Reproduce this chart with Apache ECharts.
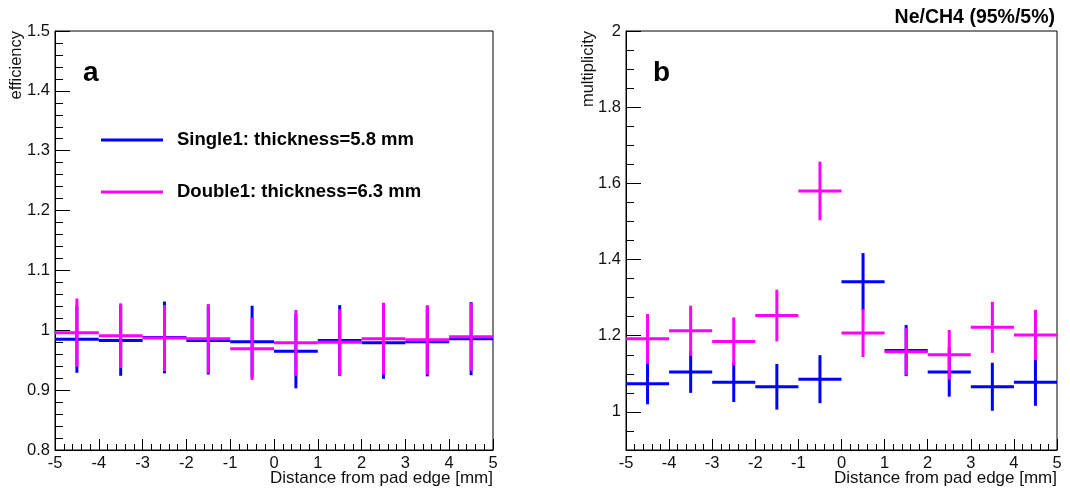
<!DOCTYPE html>
<html>
<head>
<meta charset="utf-8">
<script src="https://cdn.jsdelivr.net/npm/echarts@6/dist/echarts.min.js"></script>
<style>
html,body{margin:0;padding:0;background:#fff;}
#chart{width:1070px;height:493px;}
</style>
</head>
<body>
<div id="chart"></div>
<script>
// ---- data ----
const binCenters = [-4.5, -3.5, -2.5, -1.5, -0.5, 0.5, 1.5, 2.5, 3.5, 4.5];
const binHalfWidth = 0.5;
const effSingle    = [0.985, 0.983, 0.988, 0.983, 0.981, 0.965, 0.983, 0.979, 0.981, 0.986];
const effSingleErr = [0.056, 0.059, 0.060, 0.057, 0.060, 0.062, 0.059, 0.060, 0.058, 0.061];
const effDouble    = [0.996, 0.991, 0.987, 0.986, 0.969, 0.979, 0.980, 0.986, 0.984, 0.989];
const effDoubleErr = [0.057, 0.054, 0.055, 0.058, 0.052, 0.055, 0.055, 0.060, 0.058, 0.057];
const mulSingle    = [1.074, 1.105, 1.078, 1.066, 1.086, 1.342, 1.161, 1.105, 1.066, 1.078];
const mulSingleErr = [0.054, 0.055, 0.052, 0.060, 0.063, 0.075, 0.067, 0.065, 0.063, 0.062];
const mulDouble    = [1.192, 1.213, 1.185, 1.253, 1.580, 1.207, 1.158, 1.150, 1.222, 1.202];
const mulDoubleErr = [0.065, 0.066, 0.063, 0.068, 0.077, 0.063, 0.062, 0.065, 0.067, 0.066];
const seriesNames = ['Single1: thickness=5.8 mm', 'Double1: thickness=6.3 mm'];
const seriesColors = ['#0000ff', '#ff00ff'];
const mulMajorTicks = [1, 1.2, 1.4, 1.6, 1.8, 2];
const xTitle = 'Distance from pad edge [mm]';

// ---- build ----
const FONT = 'Liberation Sans, Arial, Helvetica, sans-serif';
function rows(vals, errs){ return binCenters.map((x,i)=>[x, vals[i], errs[i]]); }
const mulMinorTicks = [];
for (let v = 0.95; v < 2.0; v += 0.05) {
  const r = Math.round(v*100)/100;
  if (!mulMajorTicks.some(m => Math.abs(m - r) < 1e-6)) mulMinorTicks.push(r);
}
function renderItem(params, api){
  const x = api.value(0), y = api.value(1), e = api.value(2);
  const pL = api.coord([x - binHalfWidth, y]), pR = api.coord([x + binHalfWidth, y]);
  const pT = api.coord([x, y + e]), pB = api.coord([x, y - e]);
  const style = {stroke: api.visual('color'), lineWidth: 3};
  return {type:'group', children:[
    {type:'line', shape:{x1:pL[0], y1:pL[1], x2:pR[0], y2:pR[1]}, style: style},
    {type:'line', shape:{x1:pT[0], y1:pT[1], x2:pB[0], y2:pB[1]}, style: style}
  ]};
}
function errSeries(name, color, xi, yi, data){
  return {type:'custom', name:name, xAxisIndex:xi, yAxisIndex:yi, clip:true,
    itemStyle:{color:color}, renderItem:renderItem, encode:{x:0, y:1}, data:data};
}
const labelStyle = {fontFamily:FONT, fontSize:16.5, color:'#111'};
function xAxis(gi){
  return {type:'value', gridIndex:gi, min:-5, max:5, interval:1,
    axisLine:{onZero:false, lineStyle:{color:'#000', width:1}},
    axisTick:{inside:true, length:11, lineStyle:{color:'#000'}},
    minorTick:{show:true, splitNumber:5, length:6, lineStyle:{color:'#000'}},
    splitLine:{show:false},
    axisLabel:Object.assign({margin:5}, labelStyle)
  };
}
const fmt = v => String(+(+v).toFixed(2));
const xTitleStyle = {fontFamily:FONT, fontSize:17, fontWeight:'normal', color:'#111'};

const option = {
  animation:false,
  backgroundColor:'#fff',
  title:[
    {text:'a', left:78, top:54, textStyle:{fontFamily:FONT, fontSize:28, fontWeight:'bold', color:'#000'}},
    {text:'b', left:648, top:54, textStyle:{fontFamily:FONT, fontSize:28, fontWeight:'bold', color:'#000'}},
    {text:'Ne/CH4 (95%/5%)', right:10, top:3, textStyle:{fontFamily:FONT, fontSize:19.5, fontWeight:'bold', color:'#000'}},
    {text:xTitle, right:572, top:465, textStyle:xTitleStyle},
    {text:xTitle, right:8, top:465, textStyle:xTitleStyle}
  ],
  legend:{left:96, top:124, orient:'vertical', itemGap:30, itemWidth:62, itemHeight:3, icon:'rect',
    textStyle:{fontFamily:FONT, fontSize:18.5, fontWeight:'bold', color:'#000', lineHeight:22, padding:[0,0,0,9]},
    data:seriesNames.map((n,i)=>({name:n, itemStyle:{color:seriesColors[i]}}))},
  grid:[
    {left:55, right:577, top:31, bottom:43, outerBoundsMode:'none', containLabel:false, show:true, borderColor:'#000', borderWidth:1, backgroundColor:'transparent'},
    {left:626, right:13, top:31, bottom:43, outerBoundsMode:'none', containLabel:false, show:true, borderColor:'#000', borderWidth:1, backgroundColor:'transparent'}
  ],
  xAxis:[xAxis(0), xAxis(1)],
  yAxis:[
    {type:'value', gridIndex:0, position:'left', min:0.8, max:1.5, interval:0.1,
      axisLine:{show:true, onZero:false, lineStyle:{color:'#000'}},
      axisTick:{inside:true, length:15, lineStyle:{color:'#000'}},
      minorTick:{show:true, splitNumber:5, length:8, lineStyle:{color:'#000'}},
      splitLine:{show:false},
      axisLabel:Object.assign({margin:5, formatter:fmt}, labelStyle),
      name:'efficiency', nameLocation:'end', nameRotate:90, nameGap:0, nameMoveOverlap:false,
      nameTextStyle:{fontFamily:FONT, fontSize:16.5, color:'#111', align:'right', verticalAlign:'bottom', padding:[0,0,30,0]}
    },
    {type:'value', gridIndex:1, position:'left', min:0.9, max:2,
      axisLine:{show:true, onZero:false, lineStyle:{color:'#000'}},
      axisTick:{inside:true, length:15, lineStyle:{color:'#000'}, customValues:mulMajorTicks},
      splitLine:{show:false},
      axisLabel:Object.assign({margin:5, formatter:fmt, customValues:mulMajorTicks}, labelStyle),
      name:'multiplicity', nameLocation:'end', nameRotate:90, nameGap:0, nameMoveOverlap:false,
      nameTextStyle:{fontFamily:FONT, fontSize:16.5, color:'#111', align:'right', verticalAlign:'bottom', padding:[0,0,29,0]}
    },
    {type:'value', gridIndex:1, position:'left', offset:0, min:0.9, max:2,
      axisLine:{show:false, onZero:false},
      axisTick:{inside:true, length:8, lineStyle:{color:'#000'}, customValues:mulMinorTicks},
      splitLine:{show:false},
      axisLabel:{show:false}
    }
  ],
  series:[
    errSeries(seriesNames[0], seriesColors[0], 0, 0, rows(effSingle, effSingleErr)),
    errSeries(seriesNames[1], seriesColors[1], 0, 0, rows(effDouble, effDoubleErr)),
    errSeries(seriesNames[0], seriesColors[0], 1, 1, rows(mulSingle, mulSingleErr)),
    errSeries(seriesNames[1], seriesColors[1], 1, 1, rows(mulDouble, mulDoubleErr))
  ]
};
const chart = echarts.init(document.getElementById('chart'), null, {renderer:'canvas'});
chart.setOption(option);
</script>
</body>
</html>
